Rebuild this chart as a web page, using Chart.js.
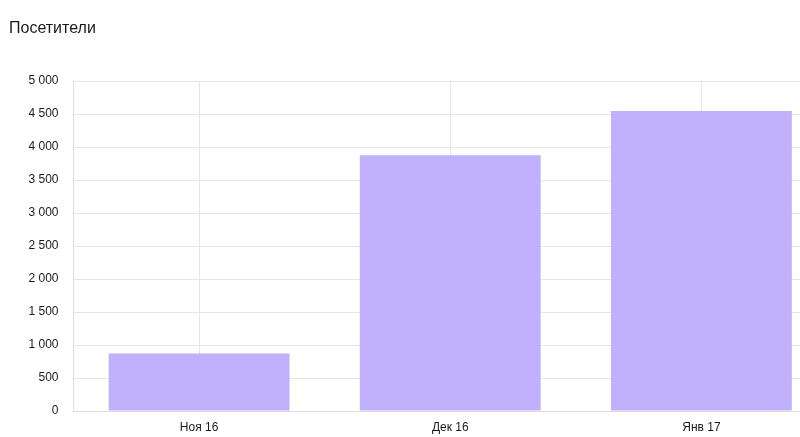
<!DOCTYPE html>
<html>
<head>
<meta charset="utf-8">
<script src="https://cdn.jsdelivr.net/npm/chart.js@4"></script>
<style>
  html, body { margin: 0; padding: 0; background: #fff; overflow: hidden; width: 800px; height: 437px; }
  #wrap { position: absolute; left: 0; top: 0; width: 827px; height: 437px; }
</style>
</head>
<body>
<div id="wrap"><canvas id="chart"></canvas></div>
<script>
const TITLE = "Посетители";
const CATEGORIES = ["Ноя 16", "Дек 16", "Янв 17"];
const VISITORS = [870, 3875, 4545];
const Y_MIN = 0;
const Y_MAX = 5000;
const Y_STEP = 500;

const GRID = '#e6e6e6';
const TEXT = '#1a1a1a';
const FONT = "'Liberation Sans', Arial, sans-serif";

// "5 000" style thousands separator
function fmt(v) {
  return String(v).replace(/\B(?=(\d{3})+(?!\d))/g, ' ');
}

new Chart(document.getElementById('chart'), {
  type: 'bar',
  data: {
    labels: CATEGORIES,
    datasets: [{
      label: TITLE,
      data: VISITORS,
      backgroundColor: '#c1b0fb',
      borderWidth: 0,
      barPercentage: 0.72,
      categoryPercentage: 1
    }]
  },
  options: {
    responsive: true,
    maintainAspectRatio: false,
    animation: false,
    layout: { padding: { left: 9, right: 0, top: 0, bottom: 0 } },
    plugins: {
      legend: { display: false },
      tooltip: { enabled: false },
      title: {
        display: true,
        text: TITLE,
        align: 'start',
        color: TEXT,
        font: { family: FONT, size: 16, weight: 'normal' },
        padding: { top: 19, bottom: 42.8 }
      }
    },
    scales: {
      x: {
        grid: { color: GRID, offset: false, drawTicks: false },
        border: { display: true, color: '#dddddd' },
        ticks: { color: TEXT, padding: 9, font: { family: FONT, size: 12 } },
        afterFit: s => { s.height = 26; }
      },
      y: {
        min: Y_MIN,
        max: Y_MAX,
        grid: { color: GRID, drawTicks: false },
        border: { display: true, color: '#dddddd' },
        ticks: {
          stepSize: Y_STEP,
          color: TEXT,
          padding: 15,
          font: { family: FONT, size: 12 },
          callback: v => fmt(v)
        },
        afterFit: s => { s.width = 64.5; }
      }
    }
  }
});
</script>
</body>
</html>
